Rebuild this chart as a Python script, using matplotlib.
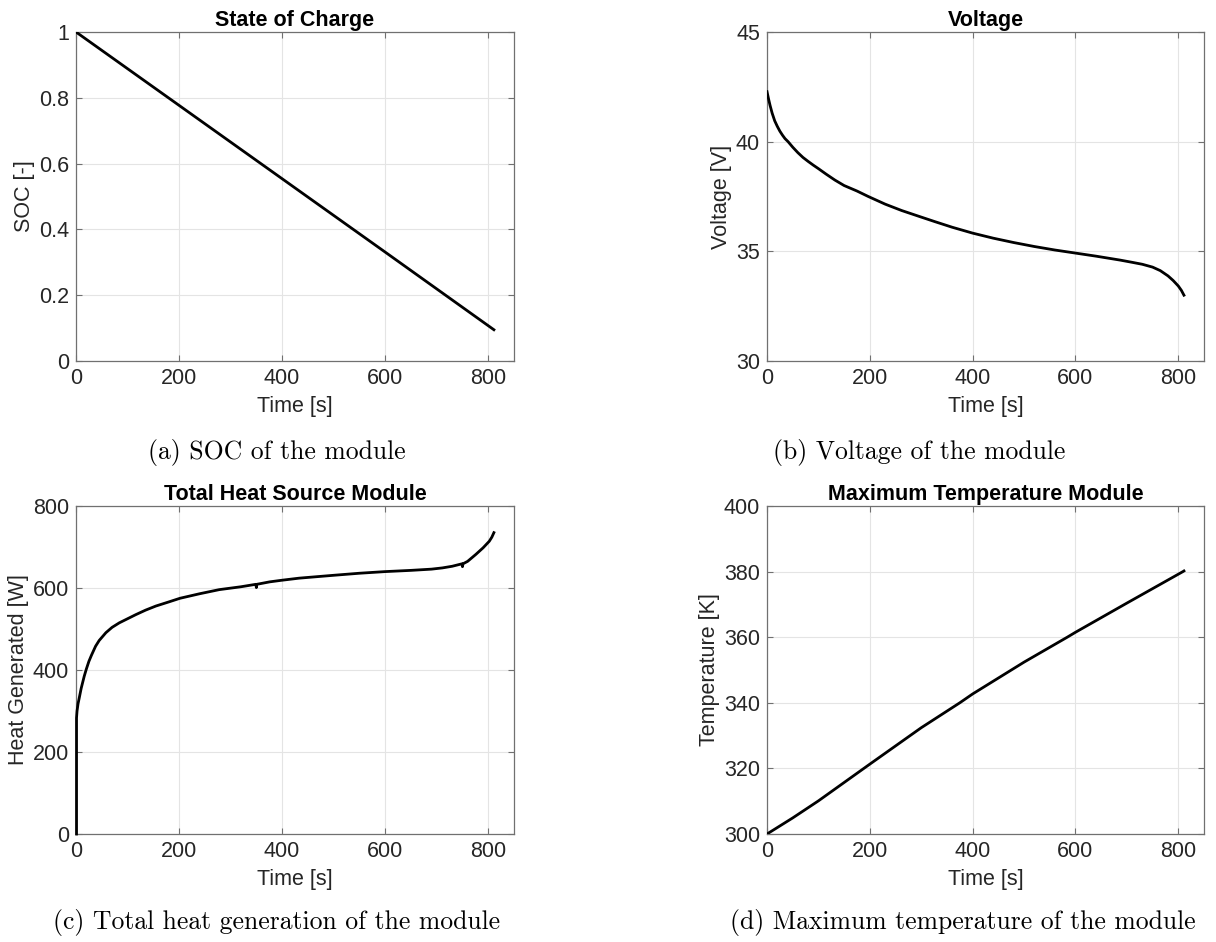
"""Battery module discharge: SOC, voltage, heat generation and max temperature (2x2 MATLAB-style panels)."""

import matplotlib

matplotlib.use("Agg")
import matplotlib.pyplot as plt

# --- data ---
soc_t = [0, 200, 400, 600, 811]
soc = [1.0, 0.777, 0.554, 0.331, 0.095]

volt_t = [0, 3, 6, 10, 15, 20, 25, 30, 35, 41, 50, 60, 70, 80, 90, 100, 115, 132, 150,
          175, 197, 230, 262, 295, 327, 360, 400, 440, 480, 520, 560, 600, 640, 687,
          710, 730, 750, 765, 780, 790, 800, 806, 811]
volt = [42.28, 41.95, 41.65, 41.3, 40.95, 40.7, 40.48, 40.3, 40.14, 40.0, 39.75, 39.5,
        39.28, 39.1, 38.93, 38.77, 38.52, 38.25, 38.0, 37.75, 37.5, 37.15, 36.86, 36.6,
        36.35, 36.1, 35.83, 35.6, 35.4, 35.22, 35.06, 34.92, 34.78, 34.6, 34.5, 34.41,
        34.28, 34.12, 33.88, 33.67, 33.42, 33.22, 33.0]

heat_t = [1, 1, 2, 4, 6, 10, 16, 20, 25, 30, 38, 45, 58, 70, 84, 100, 116, 135, 155,
          180, 202, 240, 278, 320, 349, 350, 351, 376, 400, 433, 500, 550, 600, 650,
          690, 711, 730, 749, 750, 751, 760, 776, 790, 802, 807, 811]
heat = [0, 283, 300, 318, 330, 355, 385, 402, 421, 436, 458, 472, 491, 504, 515, 525,
        535, 546, 556, 566, 575, 586, 596, 603, 609, 601, 609, 615, 619, 624, 631, 636,
        640, 643, 646, 649, 653, 659, 652, 659, 665, 682, 698, 714, 724, 735]

temp_t = [0, 50, 100, 200, 300, 375, 400, 500, 584, 600, 700, 809, 811]
temp = [300.0, 304.9, 310.1, 321.3, 332.4, 340.0, 342.7, 352.4, 360.0, 361.5, 370.4, 380.0, 380.2]

W, H = 1216, 942
AX_COLOR = "#707070"
TXT_COLOR = "#262626"
FS = 15.5
LW = 2.0

plt.rcParams["font.family"] = ["Liberation Sans", "DejaVu Sans"]
plt.rcParams["font.size"] = FS


def px_axes(fig, left, top, right, bottom):
    return fig.add_axes([left / W, 1 - bottom / H, (right - left) / W, (bottom - top) / H])


def style(ax, title, ylabel, ylim, yticks):
    ax.set_xlim(0, 850)
    ax.set_xticks([0, 200, 400, 600, 800])
    ax.set_ylim(*ylim)
    ax.set_yticks(yticks)
    ax.set_title(title, fontweight="bold", fontsize=FS, pad=4, color="black")
    ax.set_xlabel("Time [s]", fontsize=FS, color=TXT_COLOR, labelpad=5)
    ax.set_ylabel(ylabel, fontsize=FS, color=TXT_COLOR, labelpad=3)
    ax.grid(True, color="#e4e4e4", lw=0.8)
    ax.set_axisbelow(True)
    ax.tick_params(direction="in", top=True, right=True, length=4, width=0.8,
                   color=AX_COLOR, labelcolor=TXT_COLOR, labelsize=FS, pad=5)
    for sp in ax.spines.values():
        sp.set_color(AX_COLOR)
        sp.set_linewidth(0.9)


fig = plt.figure(figsize=(W / 100, H / 100), dpi=100)

ax = px_axes(fig, 76, 32, 514, 361)
ax.plot(soc_t, soc, color="black", lw=LW, zorder=3)
style(ax, "State of Charge", "SOC [-]", (0, 1), [0, 0.2, 0.4, 0.6, 0.8, 1])
ax.set_yticklabels(["0", "0.2", "0.4", "0.6", "0.8", "1"])

ax = px_axes(fig, 767, 32, 1204, 361)
ax.plot(volt_t, volt, color="black", lw=LW, zorder=3)
style(ax, "Voltage", "Voltage [V]", (30, 45), [30, 35, 40, 45])

ax = px_axes(fig, 76, 506, 514, 834)
ax.plot(heat_t, heat, color="black", lw=LW, zorder=3, clip_on=False)
style(ax, "Total Heat Source Module", "Heat Generated [W]", (0, 800), [0, 200, 400, 600, 800])

ax = px_axes(fig, 767, 506, 1204, 834)
ax.plot(temp_t, temp, color="black", lw=LW, zorder=3)
style(ax, "Maximum Temperature Module", "Temperature [K]", (300, 400), [300, 320, 340, 360, 380, 400])

captions = [
    (277, 453, "(a) SOC of the module"),
    (919, 453, "(b) Voltage of the module"),
    (277, 923, "(c) Total heat generation of the module"),
    (963, 923, "(d) Maximum temperature of the module"),
]
for cx, cy, txt in captions:
    fig.text(cx / W, 1 - cy / H, txt, ha="center", va="center",
             family="cmr10", fontsize=18.5, color="black")

fig.savefig("out.png", dpi=100)
